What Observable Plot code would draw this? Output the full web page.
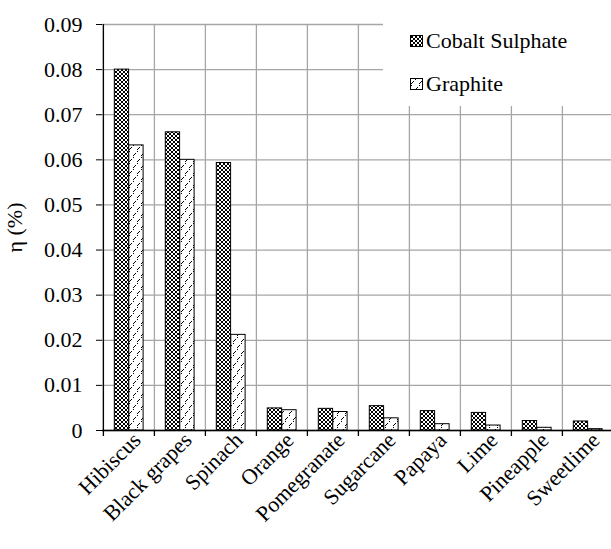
<!DOCTYPE html>
<html><head><meta charset="utf-8">
<script src="https://cdn.jsdelivr.net/npm/d3@7"></script>
<script src="https://cdn.jsdelivr.net/npm/@observablehq/plot@0.6"></script>
<style>
body{margin:0;font-size:22px;background:#fff}
.a{font-family:'Liberation Serif',serif;}
</style></head><body>
<div class="a" style="position:relative;width:611px;height:549px;font-family:'Liberation Serif',serif">
<div id="chart"></div>
<div class="a" style="position:absolute;left:383px;top:16px;width:228px;height:90px;background:#fff;font-size:22px;color:#000;font-family:'Liberation Serif',serif">
<div class="a" style="position:absolute;left:27px;top:12px;display:flex;align-items:center;white-space:nowrap;font-family:'Liberation Serif',serif"><svg width="14" height="13" style="margin-right:2px"><rect x="0.5" y="0.5" width="12" height="11" fill="url(#pcobalt)" stroke="#000"/></svg>Cobalt Sulphate</div>
<div class="a" style="position:absolute;left:27px;top:55px;display:flex;align-items:center;white-space:nowrap;font-family:'Liberation Serif',serif"><svg width="14" height="13" style="margin-right:2px"><rect x="0.5" y="0.5" width="12" height="11" fill="url(#pgraphite)" stroke="#000"/></svg>Graphite</div>
</div>
</div>
<script>
const categories = ["Hibiscus","Black grapes","Spinach","Orange","Pomegranate","Sugarcane","Papaya","Lime","Pineapple","Sweetlime"];
const cobalt =   [0.0800,0.0661,0.0593,0.0049,0.0048,0.0054,0.0043,0.0039,0.0021,0.0020];
const graphite = [0.0632,0.0600,0.0212,0.0045,0.0041,0.0027,0.0014,0.0011,0.0006,0.0003];
const yTicks = [0,0.01,0.02,0.03,0.04,0.05,0.06,0.07,0.08,0.09];

const cobaltData = categories.map((c,i)=>({category:c, value:cobalt[i]}));
const graphiteData = categories.map((c,i)=>({category:c, value:graphite[i]}));

const bw = (614-102)/categories.length;
const serif = "'Liberation Serif', serif";

const chart = Plot.plot({
  width: 611,
  height: 549,
  marginLeft: 102,
  marginTop: 24,
  marginBottom: 119,
  marginRight: 0,
  style: {fontFamily: serif, fontSize: "22px"},
  x: {domain: categories, range: [102, 614], padding: 0, label: null},
  y: {domain: [0, 0.09], ticks: yTicks},
  marks: [
    Plot.gridY(yTicks, {stroke: "#a6a6a6", strokeOpacity: 1, strokeWidth: 1.3}),
    Plot.gridX(categories, {stroke: "#a6a6a6", strokeOpacity: 1, strokeWidth: 1.3, dx: -bw/2}),
    Plot.barY(cobaltData, {x: "category", y: "value", fill: "url(#pcobalt)", stroke: "#000", strokeWidth: 1, insetLeft: 11.3, insetRight: bw-11.3-14.5}),
    Plot.barY(graphiteData, {x: "category", y: "value", fill: "url(#pgraphite)", stroke: "#000", strokeWidth: 1, insetLeft: 11.3+14.5, insetRight: bw-11.3-29}),
    Plot.axisY(yTicks, {tickSize: 6, tickPadding: 14, tickFormat: d => d === 0 ? "0" : d.toFixed(2), fontSize: 22, label: "\u03b7 (%)", labelAnchor: "center", labelOffset: 96, labelArrow: "none"}),
    Plot.ruleY([0], {stroke: "#000", strokeWidth: 1.3}),
    Plot.ruleX([0], {x: () => categories[0], dx: -bw/2, stroke: "#000", strokeWidth: 1.3}),
    Plot.axisX({tickSize: 6, tickFormat: null, dx: -bw/2, strokeWidth: 1.3, label: null}),
    Plot.axisX({tickSize: 0, tickRotate: -45, tickPadding: 6, dx: 8, fontSize: 22, label: null})
  ]
});

const defs = d3.select(chart).insert("defs", ":first-child");
const pc = defs.append("pattern").attr("id", "pcobalt").attr("patternUnits", "userSpaceOnUse").attr("width", 4).attr("height", 4);
pc.append("rect").attr("width", 4).attr("height", 4).attr("fill", "#fff");
pc.append("path").attr("fill", "#000").attr("d", "M0 0h1v1H0zM1 1h1v1H1zM2 2h1v1H2zM3 3h1v1H3zM3 0h1v1H3zM2 1h1v1H2zM1 2h1v1H1zM0 3h1v1H0z");
const pg = defs.append("pattern").attr("id", "pgraphite").attr("patternUnits", "userSpaceOnUse").attr("width", 8).attr("height", 12);
pg.append("rect").attr("width", 8).attr("height", 12).attr("fill", "#fff");
pg.append("path").attr("fill", "#000").attr("d", "M1 5h1v1H1zM2 4h1v1H2zM3 3h1v1H3zM5 1h1v1H5zM5 11h1v1H5zM6 10h1v1H6zM7 9h1v1H7zM1 7h1v1H1z");

document.getElementById("chart").appendChild(chart);
</script>
</body></html>
